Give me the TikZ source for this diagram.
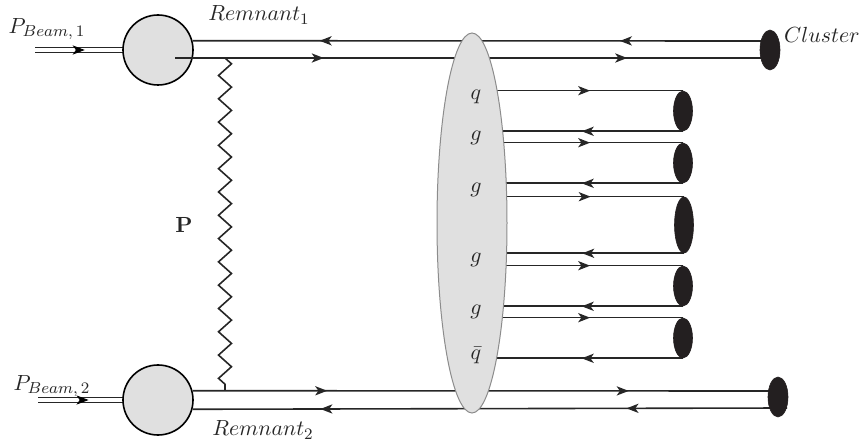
\documentclass[tikz,border=0pt]{standalone}
\usetikzlibrary{shapes.geometric,arrows.meta,decorations.markings,decorations.pathmorphing,calc}
\pgfdeclarelayer{bg}
\pgfdeclarelayer{mid}
\pgfsetlayers{bg,mid,main}
\definecolor{blobc}{HTML}{231F20}
\definecolor{fillg}{HTML}{E0E0E0}
\begin{document}
\begin{tikzpicture}[x=0.5pt,y=-0.5pt,
  lab/.style={font=\fontsize{11pt}{13pt}\selectfont, text=black!85, inner sep=0pt},
  ln/.style={line width=0.8pt, draw=black!85},
  fw/.style={postaction={decorate}, decoration={markings, mark=at position #1 with {\arrow{Stealth[length=6pt,width=4.6pt,inset=1.6pt]}}}},
  bw/.style={postaction={decorate}, decoration={markings, mark=at position #1 with {\arrowreversed{Stealth[length=6pt,width=4.6pt,inset=1.6pt]}}}},
  fwtwo/.style 2 args={postaction={decorate}, decoration={markings,
     mark=at position #1 with {\arrow{Stealth[length=6pt,width=4.6pt,inset=1.6pt]}},
     mark=at position #2 with {\arrow{Stealth[length=6pt,width=4.6pt,inset=1.6pt]}}}},
  bwtwo/.style 2 args={postaction={decorate}, decoration={markings,
     mark=at position #1 with {\arrowreversed{Stealth[length=6pt,width=4.6pt,inset=1.6pt]}},
     mark=at position #2 with {\arrowreversed{Stealth[length=6pt,width=4.6pt,inset=1.6pt]}}}},
  blob/.style={ellipse, fill=blobc, draw=blobc, line width=0.3pt, inner sep=0pt, minimum width=10pt},
  vertex/.style={circle, fill=fillg, draw=black, line width=0.8pt, minimum size=35pt, inner sep=0pt},
  beam/.style={double, double distance between line centers=2.6pt, line width=0.6pt, draw=black!85}
]
\useasboundingbox (0,0) rectangle (864,444);

% vertices and beams
\begin{pgfonlayer}{bg}
  \coordinate (in1) at (35,50);
  \coordinate (in2) at (38,400);
  \draw[beam] (in1) -- (158,50);
  \draw[beam] (in2) -- (158,400);
  \node[vertex] (c1) at (158,50) {};
  \node[vertex] (c2) at (158,400) {};
  \path[fw=0.57] (in1) -- (c1.west);
  \path[fw=0.6] (in2) -- (c2.west);
\end{pgfonlayer}

% central blob and clusters
\node[ellipse, fill=fillg, draw=black!45, line width=0.5pt, inner sep=0pt,
      minimum width=35pt, minimum height=190pt] (E) at (472,223) {};
\node[blob, minimum height=20pt] (cl) at (770,50) {};
\node[blob, minimum height=20pt] (br) at (778,397) {};
\node[blob, minimum width=9.5pt, minimum height=20pt] (b1) at (683,111) {};
\node[blob, minimum width=9.5pt, minimum height=20pt] (b2) at (683,163) {};
\node[blob, minimum width=9.5pt, minimum height=28pt] (b3) at (684,225) {};
\node[blob, minimum width=9.5pt, minimum height=20pt] (b4) at (683,286) {};
\node[blob, minimum width=9.5pt, minimum height=20pt] (b5) at (683,338) {};

% lines
\begin{pgfonlayer}{mid}
  \draw[ln, bwtwo={0.22}{0.74}] (c1.15) -- ($(cl.center)+(0,-9)$);
  \draw[ln, fwtwo={0.25}{0.76}] ($(c1.center)+(17,8)$) -- ($(cl.center)+(0,8)$);
  \draw[ln, fwtwo={0.23}{0.745}] (c2.15) -- ($(br.center)+(0,-6)$);
  \draw[ln, bwtwo={0.215}{0.73}] (c2.-15) -- ($(br.center)+(9,11)$);
  % inner lines
  \draw[ln, fw=0.56] (E.center |- b1.north) -- (b1.north);
  \draw[ln, bw=0.52] (E.center |- b1.south) -- (b1.south);
  \draw[ln, fw=0.56] (E.center |- b2.north) -- (b2.north);
  \draw[ln, bw=0.52] (E.center |- b2.south) -- (b2.south);
  \draw[ln, fw=0.56] (E.center |- b3.north) -- (b3.north);
  \draw[ln, bw=0.52] (E.center |- b3.south) -- (b3.south);
  \draw[ln, fw=0.56] (E.center |- b4.north) -- (b4.north);
  \draw[ln, bw=0.52] (E.center |- b4.south) -- (b4.south);
  \draw[ln, fw=0.56] (E.center |- b5.north) -- (b5.north);
  \draw[ln, bw=0.52] (E.center |- b5.south) -- (b5.south);
\end{pgfonlayer}

% pomeron zigzag
\coordinate (zt) at (225,58);
\coordinate (zb) at (225,391);
\draw[line width=0.8pt, black!85, decorate, decoration={zigzag, segment length=11.65pt, amplitude=3.25pt}] (zt) -- (zb);

% labels
\node[lab] (lb1) at (47,29) {$P_{Beam,\,1}$};
\node[lab] (lb2) at (52,386) {$P_{Beam,\,2}$};
\node[lab] (lr1) at (259,15) {$Remnant_1$};
\node[lab] (lr2) at (263,430) {$Remnant_2$};
\node[lab] (lcl) at (822,35) {$Cluster$};
\node[lab] (lp) at (184,225) {$\mathbf{P}$};
\node[lab] (lq) at (476,97) {$q$};
\node[lab] (lg1) at (476,138) {$g$};
\node[lab] (lg2) at (476,190) {$g$};
\node[lab] (lg3) at (476,260) {$g$};
\node[lab] (lg4) at (476,312) {$g$};
\node[lab] (lqb) at (476,355) {$\bar q$};
\end{tikzpicture}
\end{document}
